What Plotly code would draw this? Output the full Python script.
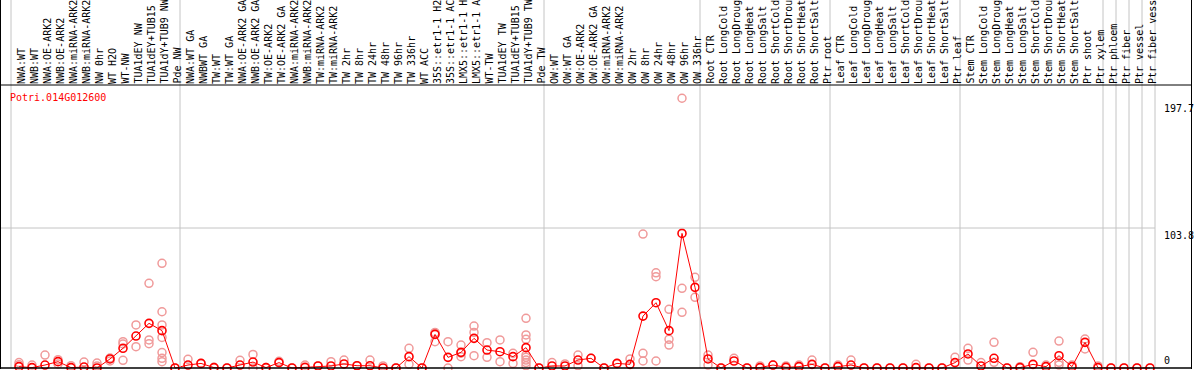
import plotly.graph_objects as go

W, H = 1194, 370

gene = "Potri.014G012600"

categories = [
    # group 1
    "NWA:WT", "NWB:WT", "NWA:OE-ARK2", "NWB:OE-ARK2", "NWA:miRNA-ARK2", "NWB:miRNA-ARK2",
    "NW 0hr", "WT H2O", "WT-NW", "TUA1dEY NW", "TUA1dEY+TUB15 NW", "TUA1dY+TUB9 NW", "Pde NW",
    # group 2
    "NWA:WT GA", "NWBWT GA", "TW:WT", "TW:WT GA", "NWA:OE-ARK2 GA", "NWB:OE-ARK2 GA",
    "TW:OE-ARK2", "TW:OE-ARK2 GA", "NWA:miRNA-ARK2", "NWB:miRNA-ARK2", "TW:miRNA-ARK2",
    "TW:miRNA-ARK2", "TW 2hr", "TW 8hr", "TW 24hr", "TW 48hr", "TW 96hr", "TW 336hr", "WT ACC",
    "35S::etr1-1 H2O", "35S::etr1-1 ACC", "LMX5::etr1-1 H2O", "LMX5::etr1-1 ACC", "WT-TW",
    "TUA1dEY TW", "TUA1dEY+TUB15 TW", "TUA1dY+TUB9 TW", "Pde TW",
    # group 3
    "OW:WT", "OW:WT GA", "OW:OE-ARK2", "OW:OE-ARK2 GA", "OW:miRNA-ARK2", "OW:miRNA-ARK2",
    "OW 2hr", "OW 8hr", "OW 24hr", "OW 48hr", "OW 96hr", "OW 336hr",
    # group 4
    "Root CTR", "Root LongCold", "Root LongDrought", "Root LongHeat", "Root LongSalt",
    "Root ShortCold", "Root ShortDrought", "Root ShortHeat", "Root ShortSalt", "Ptr root",
    # group 5
    "Leaf CTR", "Leaf LongCold", "Leaf LongDrought", "Leaf LongHeat", "Leaf LongSalt",
    "Leaf ShortCold", "Leaf ShortDrought", "Leaf ShortHeat", "Leaf ShortSalt", "Ptr leaf",
    # group 6
    "Stem CTR", "Stem LongCold", "Stem LongDrought", "Stem LongHeat", "Stem LongSalt",
    "Stem ShortCold", "Stem ShortDrought", "Stem ShortHeat", "Stem ShortSalt", "Ptr shoot",
    "Ptr xylem",
    # singles
    "Ptr phloem", "Ptr fiber", "Ptr vessel", "Ptr fiber vessel",
]

# index of first category of each group (group separators)
group_starts = [0, 13, 41, 53, 63, 73, 84, 85, 86, 87, 88]

mean_values = [
    1.0, 0.3, 2.2, 4.7, 0.3, 0.7, 0.0, 6.7, 14.6, 23.7, 33.1, 27.7, 0.0,
    2.2, 3.4, 0.3, 0.0, 2.2, 4.4, 0.3, 4.0, 0.0, 0.5, 1.5, 1.5, 3.0, 1.7, 1.7, 0.0, 0.0,
    8.4, 0.0, 24.9, 7.9, 11.6, 22.0, 13.3, 12.1, 8.4, 15.1, 0.0,
    1.5, 1.5, 5.9, 7.2, 0.0, 3.4, 2.7, 38.5, 48.4, 27.7, 99.8, 59.8,
    6.7, 0.0, 5.2, 0.0, 0.3, 2.2, 0.5, 1.0, 2.7, 0.0,
    1.0, 2.2, 0.0, 0.0, 0.0, 0.0, 0.3, 0.0, 0.0, 4.0,
    10.4, 1.5, 7.2, 0.0, 0.3, 2.7, 1.0, 9.1, 1.0, 19.0, 0.3,
    0.0, 0.0, 0.0, 0.0,
]

replicate_values = [
    [4.0, 2.5], [2.2], [9.6], [6.2, 3.0], [1.7], [4.4], [3.7, 1.5], [7.4, 5.2],
    [19.5, 17.8, 5.7], [31.9, 15.8], [62.8, 20.8, 18.0],
    [77.6, 41.7, 31.9, 22.7, 11.4, 7.2, 4.7], [0.0],
    [6.4], [3.4], [0.5], [0.0], [5.7], [10.1, 0.0], [0.3], [5.0], [0.0], [2.2], [1.5],
    [4.7], [5.9], [1.7], [5.9], [1.5], [0.0], [14.6, 2.7], [0.0], [26.4, 25.5, 19.5],
    [19.5, 0.0], [17.0, 11.0, 8.4], [31.1, 26.4, 9.1], [18.8, 7.9], [20.8, 4.7],
    [10.9, 3.4], [36.8, 24.5, 21.3, 9.6, 7.9, 5.9, 4.0, 1.7], [0.0],
    [4.0], [3.0], [9.6, 1.7], [7.2], [0.0], [3.4], [6.7], [99.3, 10.9, 5.2],
    [70.6, 67.7, 5.2], [43.5, 21.3, 17.0], [200.0, 59.1, 41.3], [67.2, 52.4],
    [9.6, 2.2], [0.0], [7.2], [0.0], [1.5], [2.2], [1.5], [2.2], [5.9], [0.0],
    [2.2], [5.9], [0.0], [0.0], [0.0], [0.0], [2.7], [0.0], [0.0], [7.9],
    [14.6, 5.9], [4.0], [19.0, 4.2], [0.0], [1.0], [11.6], [2.2], [20.0, 4.2, 2.2],
    [2.2], [21.5, 14.1], [1.5],
    [0.0], [0.0], [0.0], [0.0],
]

y_tick_values = [0, 103.8, 197.7]
y_tick_labels = ["0", "103.8", "197.7"]

# ---- pixel geometry of the reference ----
X0_PX, STEP_PX = 19.0, 13.0      # centre of first category, spacing
Y0_PX, SCALE_PX = 368.0, 1.3487  # pixel row of value 0, pixels per unit
PLOT_RIGHT_PX = 1155
LABEL_LINE_PX = 85

x_range = [-X0_PX / STEP_PX, (W - X0_PX) / STEP_PX]
y_range = [(Y0_PX - H) / SCALE_PX, Y0_PX / SCALE_PX]

def px(xp):
    return xp / W

def py(yp):
    return 1 - yp / H

xs = list(range(len(categories)))
rep_x, rep_y = [], []
for i, vals in enumerate(replicate_values):
    for v in vals:
        rep_x.append(i)
        rep_y.append(v)

fig = go.Figure()
fig.add_trace(go.Scatter(
    x=rep_x, y=rep_y, mode="markers",
    marker=dict(symbol="circle-open", size=8, color="#f09a9a", line=dict(width=1.5, color="#f09a9a")),
    hoverinfo="skip", showlegend=False, cliponaxis=False,
))
fig.add_trace(go.Scatter(
    x=xs, y=mean_values, mode="lines+markers",
    line=dict(color="#ff0000", width=1),
    marker=dict(symbol="circle-open", size=8, color="#ff0000", line=dict(width=1.6, color="#ff0000")),
    showlegend=False, cliponaxis=False,
))

shapes = []
gray = "#c4c4c4"
# group separators
for k in group_starts:
    xpix = X0_PX + STEP_PX * k - 8
    shapes.append(dict(type="line", xref="paper", yref="paper",
                       x0=px(xpix), x1=px(xpix), y0=py(Y0_PX), y1=1,
                       line=dict(color=gray, width=1)))
# gridline at middle tick
shapes.append(dict(type="line", xref="paper", yref="y",
                   x0=0, x1=px(PLOT_RIGHT_PX), y0=y_tick_values[1], y1=y_tick_values[1],
                   line=dict(color=gray, width=1)))
# frame lines
shapes.append(dict(type="line", xref="paper", yref="paper", x0=0, x1=px(1192),
                   y0=py(LABEL_LINE_PX), y1=py(LABEL_LINE_PX), line=dict(color="black", width=1)))
shapes.append(dict(type="line", xref="paper", yref="y", x0=0, x1=px(1192),
                   y0=0, y1=0, line=dict(color="black", width=1.5)))
shapes.append(dict(type="line", xref="paper", yref="paper", x0=px(0.5), x1=px(0.5),
                   y0=py(Y0_PX + 1), y1=1, line=dict(color="black", width=1)))
shapes.append(dict(type="line", xref="paper", yref="paper", x0=px(1191.5), x1=px(1191.5),
                   y0=py(Y0_PX + 1), y1=1, line=dict(color="black", width=1)))

mono = "DejaVu Sans Mono"
annotations = []
for i, name in enumerate(categories):
    annotations.append(dict(
        x=i, xref="x", y=py(LABEL_LINE_PX), yref="paper",
        text=name, textangle=-90, showarrow=False,
        xanchor="center", yanchor="bottom", xshift=2, borderpad=0,
        font=dict(family=mono, size=10, color="black"),
    ))

annotations.append(dict(x=px(8), y=py(97), xref="paper", yref="paper", text=gene,
                        showarrow=False, xanchor="left", yanchor="middle",
                        font=dict(family=mono, size=10, color="#ff0000")))

annotations.append(dict(x=px(1162), y=0, xref="paper", yref="y", text=y_tick_labels[0],
                        showarrow=False, xanchor="left", yanchor="bottom",
                        font=dict(family=mono, size=10, color="black")))
for v, t in zip(y_tick_values[1:], y_tick_labels[1:]):
    annotations.append(dict(x=px(1162), y=v, xref="paper", yref="y", text=t,
                            showarrow=False, xanchor="left", yanchor="top",
                            font=dict(family=mono, size=10, color="black")))

fig.update_layout(
    width=W, height=H, autosize=False,
    margin=dict(l=0, r=0, t=0, b=0, pad=0),
    paper_bgcolor="white", plot_bgcolor="white",
    xaxis=dict(range=x_range, visible=False, fixedrange=True),
    yaxis=dict(range=y_range, visible=False, fixedrange=True),
    shapes=shapes, annotations=annotations,
    showlegend=False,
)

fig.write_html(
    "out.html",
    config={"displayModeBar": False},
    post_script="document.body.style.margin='0';document.body.style.overflow='hidden';",
)
